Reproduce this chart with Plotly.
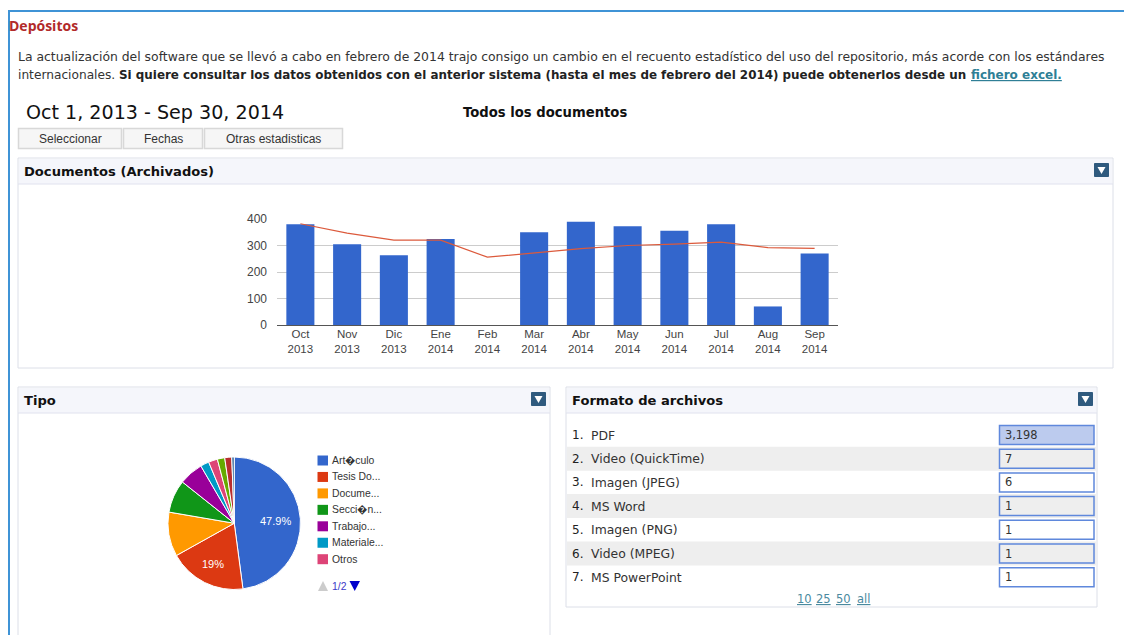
import plotly.graph_objects as go

W, H = 1124, 635

months = ["Oct<br>2013", "Nov<br>2013", "Dic<br>2013", "Ene<br>2014", "Feb<br>2014", "Mar<br>2014",
          "Abr<br>2014", "May<br>2014", "Jun<br>2014", "Jul<br>2014", "Aug<br>2014", "Sep<br>2014"]
deposits = [380, 305, 263, 325, 0, 350, 390, 373, 356, 380, 70, 270]
trend = [382, 347, 320, 320, 256, 272, 288, 300, 305, 313, 292, 289]

pie_labels = ["Art\ufffdculo", "Tesis Do...", "Docume...", "Secci\ufffdn...", "Trabajo...", "Materiale...", "Otros",
              "Cap", "Rev", "Ponencia"]
pie_values = [47.9, 19.0, 10.8, 8.0, 5.9, 2.1, 2.2, 1.8, 1.7, 0.6]
pie_text = ["47.9%", "19%"]
pie_colors = ["#3366cc", "#dc3912", "#ff9900", "#109618", "#990099", "#0099c6", "#dd4477",
              "#66aa00", "#b82e2e", "#316395"]
legend_count = 7

formats = ["PDF", "Video (QuickTime)", "Imagen (JPEG)", "MS Word", "Imagen (PNG)", "Video (MPEG)", "MS PowerPoint"]
format_counts = ["3,198", "7", "6", "1", "1", "1", "1"]

buttons = [("Seleccionar", 18, 122), ("Fechas", 123, 203), ("Otras estadisticas", 204, 343)]

SANS = "Liberation Sans"
VERD = "DejaVu Sans"
shapes, notes = [], []


def px(x):
    return x / W


def py(y):
    return 1 - y / H


def rect(x0, y0, x1, y1, fill="rgba(0,0,0,0)", line="rgba(0,0,0,0)", lw=1):
    shapes.append(dict(type="rect", xref="paper", yref="paper", x0=px(x0), x1=px(x1), y0=py(y1), y1=py(y0),
                       fillcolor=fill, line=dict(color=line, width=lw), layer="below"))


def bar(x0, y0, x1, y1, color):
    shapes.append(dict(type="rect", xref="paper", yref="paper", x0=px(x0), x1=px(x1), y0=py(y1), y1=py(y0),
                       fillcolor=color, line=dict(width=0), layer="below"))


def hline(x0, x1, y, color, lw=1):
    shapes.append(dict(type="line", xref="paper", yref="paper", x0=px(x0), x1=px(x1), y0=py(y), y1=py(y),
                       line=dict(color=color, width=lw), layer="below"))


def tri(pts, color, layer="above"):
    d = "M " + " L ".join(f"{px(a):.5f},{py(b):.5f}" for a, b in pts) + " Z"
    shapes.append(dict(type="path", xref="paper", yref="paper", path=d, fillcolor=color,
                       line=dict(color=color, width=0), layer=layer))


def text(x, y, s, size=12, color="#222222", family=VERD, anchor="left"):
    notes.append(dict(xref="paper", yref="paper", x=px(x), y=py(y), text=s, showarrow=False, xanchor=anchor,
                      yanchor="middle", align=anchor, borderpad=0, borderwidth=0,
                      font=dict(size=size, color=color, family=family)))


def panel(x0, y0, x1, y1, title):
    rect(x0, y0, x1, y1, "#ffffff", "#dcdfe8")
    rect(x0 + 1, y0 + 1, x1 - 1, y0 + 26, "#f5f6fb")
    hline(x0, x1, y0 + 26, "#e0e2ee")
    text(x0 + 6, y0 + 13.5, f"<b>{title}</b>", size=13.1, color="#111111")
    ix = x1 - 11.5
    iy = y0 + 12
    rect(ix - 7, iy - 6.5, ix + 7, iy + 6.5, "#2f5a7e", "#2f5a7e")
    tri([(ix - 4, iy - 3), (ix + 4, iy - 3), (ix, iy + 4)], "#ffffff")


# page frame
bar(8, 10, W, 12, "#3f93d6")
bar(8, 10, 10, H, "#3f93d6")

text(9, 25, "<b>Dep\u00f3sitos</b>", size=14, color="#b22a2a", family="Open Sans")
text(18, 56, "La actualizaci\u00f3n del software que se llev\u00f3 a cabo en febrero de 2014 trajo consigo un cambio en el "
     "recuento estad\u00edstico del uso del repositorio, m\u00e1s acorde con los est\u00e1ndares", size=12.4, color="#333333")
text(18, 74.5, "internacionales.", size=12.2, color="#333333")
text(119, 74.5, "<b>Si quiere consultar los datos obtenidos con el anterior sistema (hasta el mes de "
     "febrero del 2014) puede obtenerlos desde un</b>", size=11.92, color="#222222")
text(971, 74.5, "<b><u>fichero excel.</u></b>", size=12, color="#2f7f96")

text(26, 112, "Oct 1, 2013 - Sep 30, 2014", size=19.1, color="#111111")
text(545, 112, "<b>Todos los documentos</b>", size=13.2, color="#111111", anchor="center")

for label, x0, x1 in buttons:
    rect(x0 + .5, 128.5, x1 - .5, 148.5, "#f6f6f6", "#d8d8d8", 1.5)
    text((x0 + x1) / 2, 138.5, label, size=12, color="#333333", family=SANS, anchor="center")

panel(18, 158, 1113, 368, "Documentos (Archivados)")
panel(18, 387, 550, 660, "Tipo")
panel(566, 387, 1097, 607, "Formato de archivos")

# format table
row_y0 = 435.0
row_step = 23.7
for i, (name, count) in enumerate(zip(formats, format_counts)):
    y = row_y0 + i * row_step
    if i % 2 == 1:
        rect(567, y - 12, 1096, y + 12, "#eeeeee")
    fill = "#bccbee" if i == 0 else ("#eeeeee" if i % 2 == 1 else "#ffffff")
    rect(999.5, y - 9.5, 1094, y + 9.5, fill, "#5f88dc", 1.5)
    text(572, y, f"{i + 1}.", size=12, color="#222222")
    text(591, y, name, size=12.4, color="#333333")
    text(1005, y, count, size=11.4, color="#333333")

for label, x in [("10", 804.5), ("25", 823.5), ("50", 843.5), ("all", 863)]:
    text(x, 599, f"<u>{label}</u>", size=11.5, color="#4a8a9f", anchor="center")

# pie legend
for i in range(legend_count):
    y = 460.5 + i * 16.45
    rect(317.5, y - 5, 328, y + 5, pie_colors[i])
    text(332, y, pie_labels[i], size=10.4, color="#333333", family=SANS)

tri([(318, 591), (328, 591), (323, 581)], "#cccccc")
text(332, 586, "1/2", size=10.4, color="#3a3ac8", family=SANS)
tri([(349.5, 581), (360, 581), (354.7, 591)], "#0000cc")

# pie value labels
for label, (x, y) in zip(pie_text, [(275, 521), (212.5, 564)]):
    text(x, y, label, size=11, color="#ffffff", family=SANS, anchor="center")

fig = go.Figure()
fig.add_trace(go.Bar(x=months, y=deposits, marker=dict(color="#3366cc", line=dict(width=0)), width=0.6,
                     showlegend=False, xaxis="x", yaxis="y"))
fig.add_trace(go.Scatter(x=months, y=trend, mode="lines", line=dict(color="#dc5a3c", width=1.2),
                         showlegend=False, xaxis="x", yaxis="y"))
fig.add_trace(go.Pie(labels=pie_labels, values=pie_values, textinfo="none", sort=False,
                     direction="clockwise", rotation=0,
                     marker=dict(colors=pie_colors, line=dict(color="#ffffff", width=1)),
                     domain=dict(x=[px(168), px(300.5)], y=[py(589.5), py(457)]), showlegend=False))

fig.update_layout(
    width=W, height=H, autosize=False, margin=dict(l=0, r=0, t=0, b=0, autoexpand=False),
    paper_bgcolor="#ffffff", plot_bgcolor="rgba(0,0,0,0)", bargap=0.4, showlegend=False,
    shapes=shapes, annotations=notes,
    xaxis=dict(domain=[px(277), px(838)], type="category", showgrid=False, showline=True, linecolor="#555555",
               linewidth=1, ticks="", tickangle=0, automargin=False, ticklabelstandoff=-2,
               tickfont=dict(family=SANS, size=11.5, color="#444444")),
    yaxis=dict(domain=[py(325), py(219)], range=[0, 400], tickvals=[0, 100, 200, 300, 400], showgrid=True,
               gridcolor="#cccccc", gridwidth=1, zeroline=False, showline=False, ticks="", automargin=False,
               ticklabelstandoff=9, tickfont=dict(family=SANS, size=12, color="#444444")),
)

fig.write_html("out.html", config=dict(displayModeBar=False),
               post_script="document.body.style.margin='0';document.body.style.overflow='hidden';")
